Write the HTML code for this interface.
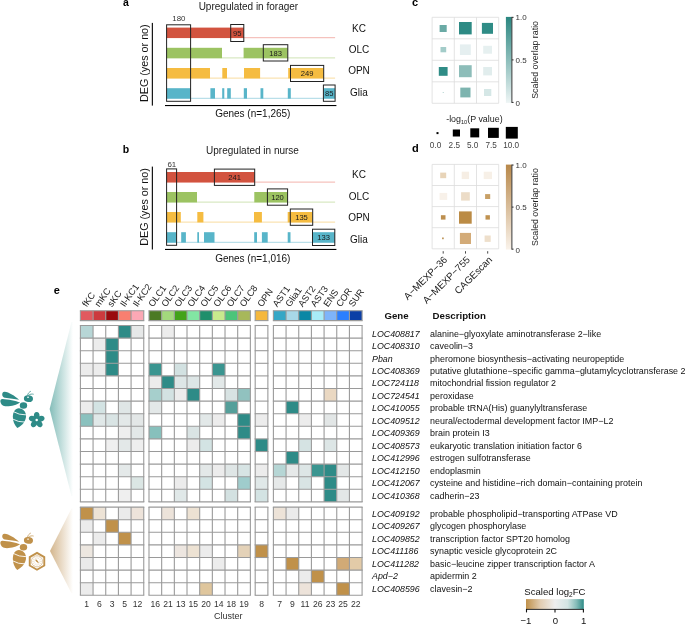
<!DOCTYPE html>
<html><head><meta charset="utf-8"><style>
html,body{margin:0;padding:0;background:#fff;width:685px;height:624px;overflow:hidden}
svg{display:block;will-change:transform}
text{font-family:"Liberation Sans", sans-serif}
</style></head><body>
<svg width="685" height="624" viewBox="0 0 685 624" font-family='"Liberation Sans", sans-serif'>
<rect width="685" height="624" fill="#fff"/>
<text x="123" y="6" font-size="10.5" text-anchor="start" font-weight="bold" font-style="normal" fill="#000" >a</text>
<text x="248.4" y="9.6" font-size="10" text-anchor="middle" font-weight="normal" font-style="normal" fill="#1a1a1a" >Upregulated in forager</text>
<rect x="166.6" y="37.2" width="168.5" height="1" fill="#f3b4ad"/>
<rect x="166.6" y="27.6" width="77.20" height="10.4" fill="#d2533f"/>
<rect x="166.6" y="57.4" width="168.5" height="1" fill="#cfe3b5"/>
<rect x="166.6" y="47.8" width="55.40" height="10.4" fill="#9cc362"/>
<rect x="243.6" y="47.8" width="44.10" height="10.4" fill="#9cc362"/>
<rect x="166.6" y="77.6" width="168.5" height="1" fill="#f9dca0"/>
<rect x="166.6" y="68.0" width="43.40" height="10.4" fill="#f5bc41"/>
<rect x="222.3" y="68.0" width="4.70" height="10.4" fill="#f5bc41"/>
<rect x="244" y="68.0" width="16.10" height="10.4" fill="#f5bc41"/>
<rect x="288.2" y="68.0" width="35.50" height="10.4" fill="#f5bc41"/>
<rect x="166.6" y="97.8" width="168.5" height="1" fill="#a9d8e4"/>
<rect x="166.6" y="88.2" width="24.00" height="10.4" fill="#58b5c9"/>
<rect x="210.4" y="88.2" width="4.60" height="10.4" fill="#58b5c9"/>
<rect x="222.2" y="88.2" width="2.10" height="10.4" fill="#58b5c9"/>
<rect x="227.2" y="88.2" width="3.60" height="10.4" fill="#58b5c9"/>
<rect x="243.8" y="88.2" width="3.20" height="10.4" fill="#58b5c9"/>
<rect x="260.5" y="88.2" width="2.80" height="10.4" fill="#58b5c9"/>
<rect x="287.8" y="88.2" width="3.00" height="10.4" fill="#58b5c9"/>
<rect x="323.7" y="88.2" width="11.40" height="10.4" fill="#58b5c9"/>
<rect x="230.7" y="24.5" width="13.10" height="17.00" fill="none" stroke="#222" stroke-width="1"/>
<text x="237.25" y="35.9" font-size="7.6" text-anchor="middle" font-weight="normal" font-style="normal" fill="#1a1a1a" >95</text>
<rect x="263.3" y="44.7" width="24.50" height="16.30" fill="none" stroke="#222" stroke-width="1"/>
<text x="275.55" y="55.75" font-size="7.6" text-anchor="middle" font-weight="normal" font-style="normal" fill="#1a1a1a" >183</text>
<rect x="290.5" y="65.4" width="33.20" height="16.10" fill="none" stroke="#222" stroke-width="1"/>
<text x="307.1" y="76.35000000000001" font-size="7.6" text-anchor="middle" font-weight="normal" font-style="normal" fill="#1a1a1a" >249</text>
<rect x="323.4" y="85" width="11.70" height="16.30" fill="none" stroke="#222" stroke-width="1"/>
<text x="329.25" y="96.05000000000001" font-size="7.6" text-anchor="middle" font-weight="normal" font-style="normal" fill="#1a1a1a" >85</text>
<rect x="166.6" y="24.8" width="24.00" height="76.50" fill="none" stroke="#222" stroke-width="1"/>
<text x="178.9" y="21.0" font-size="7.9" text-anchor="middle" font-weight="normal" font-style="normal" fill="#333" >180</text>
<rect x="151.8" y="22.9" width="1.1" height="82.69999999999999" fill="#000"/>
<rect x="165" y="105.0" width="171.4" height="1.1" fill="#000"/>
<text x="0" y="0" font-size="10.75" text-anchor="middle" fill="#111" transform="translate(147.6 63.15) rotate(-90)">DEG (yes or no)</text>
<text x="252.8" y="116.9" font-size="10" text-anchor="middle" font-weight="normal" font-style="normal" fill="#111" >Genes (n=1,265)</text>
<text x="359" y="31.9" font-size="10" text-anchor="middle" font-weight="normal" font-style="normal" fill="#111" >KC</text>
<text x="359" y="53.2" font-size="10" text-anchor="middle" font-weight="normal" font-style="normal" fill="#111" >OLC</text>
<text x="359" y="74.4" font-size="10" text-anchor="middle" font-weight="normal" font-style="normal" fill="#111" >OPN</text>
<text x="359" y="95.7" font-size="10" text-anchor="middle" font-weight="normal" font-style="normal" fill="#111" >Glia</text>
<text x="122.8" y="153" font-size="10.5" text-anchor="start" font-weight="bold" font-style="normal" fill="#000" >b</text>
<text x="252.5" y="153.7" font-size="10" text-anchor="middle" font-weight="normal" font-style="normal" fill="#1a1a1a" >Upregulated in nurse</text>
<rect x="166.6" y="181.6" width="168.5" height="1" fill="#f3b4ad"/>
<rect x="166.6" y="172.0" width="88.10" height="10.4" fill="#d2533f"/>
<rect x="166.6" y="201.6" width="168.5" height="1" fill="#cfe3b5"/>
<rect x="166.6" y="192.0" width="30.40" height="10.4" fill="#9cc362"/>
<rect x="254.3" y="192.0" width="33.30" height="10.4" fill="#9cc362"/>
<rect x="166.6" y="221.6" width="168.5" height="1" fill="#f9dca0"/>
<rect x="166.6" y="212.0" width="14.20" height="10.4" fill="#f5bc41"/>
<rect x="197.3" y="212.0" width="6.10" height="10.4" fill="#f5bc41"/>
<rect x="254" y="212.0" width="7.90" height="10.4" fill="#f5bc41"/>
<rect x="287.7" y="212.0" width="24.80" height="10.4" fill="#f5bc41"/>
<rect x="166.6" y="241.79999999999998" width="168.5" height="1" fill="#a9d8e4"/>
<rect x="166.6" y="232.2" width="9.80" height="10.4" fill="#58b5c9"/>
<rect x="181.2" y="232.2" width="4.70" height="10.4" fill="#58b5c9"/>
<rect x="197.3" y="232.2" width="1.70" height="10.4" fill="#58b5c9"/>
<rect x="204" y="232.2" width="10.50" height="10.4" fill="#58b5c9"/>
<rect x="254.2" y="232.2" width="2.80" height="10.4" fill="#58b5c9"/>
<rect x="261.9" y="232.2" width="5.80" height="10.4" fill="#58b5c9"/>
<rect x="287.7" y="232.2" width="2.80" height="10.4" fill="#58b5c9"/>
<rect x="312.5" y="232.2" width="22.30" height="10.4" fill="#58b5c9"/>
<rect x="214.4" y="169.1" width="40.30" height="16.30" fill="none" stroke="#222" stroke-width="1"/>
<text x="234.55" y="180.15" font-size="7.6" text-anchor="middle" font-weight="normal" font-style="normal" fill="#1a1a1a" >241</text>
<rect x="267.4" y="188.9" width="20.20" height="16.30" fill="none" stroke="#222" stroke-width="1"/>
<text x="277.5" y="199.95000000000002" font-size="7.6" text-anchor="middle" font-weight="normal" font-style="normal" fill="#1a1a1a" >120</text>
<rect x="290.3" y="209" width="22.40" height="16.30" fill="none" stroke="#222" stroke-width="1"/>
<text x="301.5" y="220.05" font-size="7.6" text-anchor="middle" font-weight="normal" font-style="normal" fill="#1a1a1a" >135</text>
<rect x="312.5" y="229.2" width="22.30" height="16.30" fill="none" stroke="#222" stroke-width="1"/>
<text x="323.65" y="240.25" font-size="7.6" text-anchor="middle" font-weight="normal" font-style="normal" fill="#1a1a1a" >133</text>
<rect x="166.6" y="168.9" width="10.00" height="76.40" fill="none" stroke="#222" stroke-width="1"/>
<text x="171.79999999999998" y="167.4" font-size="7.9" text-anchor="middle" font-weight="normal" font-style="normal" fill="#333" >61</text>
<rect x="151.8" y="166.6" width="1.1" height="82.9" fill="#000"/>
<rect x="165" y="248.9" width="171.4" height="1.1" fill="#000"/>
<text x="0" y="0" font-size="10.75" text-anchor="middle" fill="#111" transform="translate(147.6 206.95000000000002) rotate(-90)">DEG (yes or no)</text>
<text x="252.8" y="261.9" font-size="10" text-anchor="middle" font-weight="normal" font-style="normal" fill="#111" >Genes (n=1,016)</text>
<text x="359" y="178.3" font-size="10" text-anchor="middle" font-weight="normal" font-style="normal" fill="#111" >KC</text>
<text x="359" y="199.6" font-size="10" text-anchor="middle" font-weight="normal" font-style="normal" fill="#111" >OLC</text>
<text x="359" y="221.2" font-size="10" text-anchor="middle" font-weight="normal" font-style="normal" fill="#111" >OPN</text>
<text x="359" y="242.9" font-size="10" text-anchor="middle" font-weight="normal" font-style="normal" fill="#111" >Glia</text>
<text x="412" y="6.2" font-size="11" text-anchor="start" font-weight="bold" font-style="normal" fill="#000" >c</text>
<line x1="432.1" y1="17.3" x2="432.1" y2="103.3" stroke="#dcdcdc" stroke-width="0.8"/>
<line x1="454.3" y1="17.3" x2="454.3" y2="103.3" stroke="#dcdcdc" stroke-width="0.8"/>
<line x1="476.5" y1="17.3" x2="476.5" y2="103.3" stroke="#dcdcdc" stroke-width="0.8"/>
<line x1="498.7" y1="17.3" x2="498.7" y2="103.3" stroke="#dcdcdc" stroke-width="0.8"/>
<line x1="432.1" y1="17.3" x2="498.7" y2="17.3" stroke="#dcdcdc" stroke-width="0.8"/>
<line x1="432.1" y1="38.8" x2="498.7" y2="38.8" stroke="#dcdcdc" stroke-width="0.8"/>
<line x1="432.1" y1="60.3" x2="498.7" y2="60.3" stroke="#dcdcdc" stroke-width="0.8"/>
<line x1="432.1" y1="81.8" x2="498.7" y2="81.8" stroke="#dcdcdc" stroke-width="0.8"/>
<line x1="432.1" y1="103.3" x2="498.7" y2="103.3" stroke="#dcdcdc" stroke-width="0.8"/>
<rect x="439.6" y="25" width="7.10" height="7.00" fill="#6aaaa5"/>
<rect x="459" y="22" width="12.70" height="12.40" fill="#2d8a84"/>
<rect x="481.9" y="22.9" width="11.10" height="10.90" fill="#2f8c86"/>
<rect x="440.5" y="47" width="5.70" height="5.30" fill="#a3ccc9"/>
<rect x="459.9" y="44.4" width="10.90" height="10.60" fill="#e5eff0"/>
<rect x="483.2" y="45.8" width="8.80" height="7.90" fill="#e6f0f0"/>
<rect x="438.8" y="67" width="8.80" height="8.80" fill="#2f8c86"/>
<rect x="459" y="65.2" width="12.70" height="12.00" fill="#8dbdb9"/>
<rect x="483.2" y="67" width="8.80" height="8.40" fill="#e1eded"/>
<rect x="442.7" y="92" width="1.10" height="1.00" fill="#b6d5d3"/>
<rect x="460.3" y="87.6" width="10.20" height="9.80" fill="#7db4af"/>
<rect x="484" y="89" width="7.30" height="7.00" fill="#d5e7e6"/>
<defs><linearGradient id="gc" x1="0" y1="0" x2="0" y2="1"><stop offset="0" stop-color="#2a8680"/><stop offset="1" stop-color="#eef5f5"/></linearGradient><linearGradient id="gd" x1="0" y1="0" x2="0" y2="1"><stop offset="0" stop-color="#b8884a"/><stop offset="1" stop-color="#faf3eb"/></linearGradient></defs>
<rect x="505.9" y="16.9" width="5.8" height="86.00" fill="url(#gc)"/>
<line x1="511.9" y1="16.9" x2="511.9" y2="102.9" stroke="#222" stroke-width="0.9"/>
<line x1="511.9" y1="17.349999999999998" x2="513.6" y2="17.349999999999998" stroke="#222" stroke-width="0.9"/>
<line x1="511.9" y1="59.900000000000006" x2="513.6" y2="59.900000000000006" stroke="#222" stroke-width="0.9"/>
<line x1="511.9" y1="102.45" x2="513.6" y2="102.45" stroke="#222" stroke-width="0.9"/>
<text x="515.6" y="19.9" font-size="8" text-anchor="start" font-weight="normal" font-style="normal" fill="#333" >1.0</text>
<text x="515.6" y="62.900000000000006" font-size="8" text-anchor="start" font-weight="normal" font-style="normal" fill="#333" >0.5</text>
<text x="515.6" y="105.9" font-size="8" text-anchor="start" font-weight="normal" font-style="normal" fill="#333" >0</text>
<text x="0" y="0" font-size="8.8" text-anchor="middle" fill="#222" transform="translate(538 59.900000000000006) rotate(-90)">Scaled overlap ratio</text>
<text x="446.2" y="121.9" font-size="8.9" fill="#222">-log<tspan font-size="5.6" dy="1.8">10</tspan><tspan dy="-1.8">(P value)</tspan></text>
<rect x="436.5" y="132.1" width="2.00" height="2.00" fill="#000"/>
<rect x="452.8" y="129.5" width="7.20" height="7.00" fill="#000"/>
<rect x="470.3" y="128.3" width="8.90" height="9.10" fill="#000"/>
<rect x="488" y="127.8" width="10.80" height="10.10" fill="#000"/>
<rect x="505.8" y="126.9" width="12.00" height="11.70" fill="#000"/>
<text x="435.5" y="147.7" font-size="8.2" text-anchor="middle" font-weight="normal" font-style="normal" fill="#444" >0.0</text>
<text x="454.3" y="147.7" font-size="8.2" text-anchor="middle" font-weight="normal" font-style="normal" fill="#444" >2.5</text>
<text x="472.7" y="147.7" font-size="8.2" text-anchor="middle" font-weight="normal" font-style="normal" fill="#444" >5.0</text>
<text x="491.2" y="147.7" font-size="8.2" text-anchor="middle" font-weight="normal" font-style="normal" fill="#444" >7.5</text>
<text x="511.1" y="147.7" font-size="8.2" text-anchor="middle" font-weight="normal" font-style="normal" fill="#444" >10.0</text>
<text x="412" y="152.3" font-size="11" text-anchor="start" font-weight="bold" font-style="normal" fill="#000" >d</text>
<line x1="432.1" y1="164.4" x2="432.1" y2="248.8" stroke="#dcdcdc" stroke-width="0.8"/>
<line x1="454.3" y1="164.4" x2="454.3" y2="248.8" stroke="#dcdcdc" stroke-width="0.8"/>
<line x1="476.5" y1="164.4" x2="476.5" y2="248.8" stroke="#dcdcdc" stroke-width="0.8"/>
<line x1="498.7" y1="164.4" x2="498.7" y2="248.8" stroke="#dcdcdc" stroke-width="0.8"/>
<line x1="432.1" y1="164.4" x2="498.7" y2="164.4" stroke="#dcdcdc" stroke-width="0.8"/>
<line x1="432.1" y1="185.5" x2="498.7" y2="185.5" stroke="#dcdcdc" stroke-width="0.8"/>
<line x1="432.1" y1="206.60000000000002" x2="498.7" y2="206.60000000000002" stroke="#dcdcdc" stroke-width="0.8"/>
<line x1="432.1" y1="227.70000000000002" x2="498.7" y2="227.70000000000002" stroke="#dcdcdc" stroke-width="0.8"/>
<line x1="432.1" y1="248.8" x2="498.7" y2="248.8" stroke="#dcdcdc" stroke-width="0.8"/>
<rect x="440.2" y="172.6" width="6.00" height="5.60" fill="#e8d4b8"/>
<rect x="461.7" y="171.7" width="7.40" height="7.40" fill="#f6eee4"/>
<rect x="483.7" y="171.7" width="8.30" height="7.40" fill="#f7f0e7"/>
<rect x="439.6" y="192.9" width="7.60" height="7.00" fill="#f8f1e9"/>
<rect x="461.1" y="192.2" width="8.70" height="8.40" fill="#ecdcc7"/>
<rect x="485.1" y="194.1" width="5.10" height="4.90" fill="#c8a066"/>
<rect x="440.9" y="215.2" width="4.60" height="4.40" fill="#bd8f4f"/>
<rect x="459" y="211.4" width="12.70" height="12.30" fill="#bb8b45"/>
<rect x="485.5" y="215.2" width="4.40" height="4.40" fill="#c09250"/>
<rect x="442" y="237.5" width="1.80" height="1.70" fill="#c09a60"/>
<rect x="459.9" y="232.9" width="11.10" height="11.10" fill="#d3ab78"/>
<rect x="484.6" y="235.5" width="6.10" height="6.40" fill="#eedfcb"/>
<rect x="505.9" y="164.6" width="5.8" height="85.00" fill="url(#gd)"/>
<line x1="511.9" y1="164.6" x2="511.9" y2="249.6" stroke="#222" stroke-width="0.9"/>
<line x1="511.9" y1="165.04999999999998" x2="513.6" y2="165.04999999999998" stroke="#222" stroke-width="0.9"/>
<line x1="511.9" y1="207.1" x2="513.6" y2="207.1" stroke="#222" stroke-width="0.9"/>
<line x1="511.9" y1="249.15" x2="513.6" y2="249.15" stroke="#222" stroke-width="0.9"/>
<text x="515.6" y="167.6" font-size="8" text-anchor="start" font-weight="normal" font-style="normal" fill="#333" >1.0</text>
<text x="515.6" y="210.1" font-size="8" text-anchor="start" font-weight="normal" font-style="normal" fill="#333" >0.5</text>
<text x="515.6" y="252.6" font-size="8" text-anchor="start" font-weight="normal" font-style="normal" fill="#333" >0</text>
<text x="0" y="0" font-size="8.8" text-anchor="middle" fill="#222" transform="translate(538 207.1) rotate(-90)">Scaled overlap ratio</text>
<line x1="443.2" y1="251.2" x2="443.2" y2="253.6" stroke="#333" stroke-width="0.9"/>
<line x1="465.5" y1="251.2" x2="465.5" y2="253.6" stroke="#333" stroke-width="0.9"/>
<line x1="487.7" y1="251.2" x2="487.7" y2="253.6" stroke="#333" stroke-width="0.9"/>
<text x="0" y="0" font-size="9.8" text-anchor="end" fill="#222" transform="translate(447.9 260.4) rotate(-45)">A−MEXP−36</text>
<text x="0" y="0" font-size="9.8" text-anchor="end" fill="#222" transform="translate(470.59999999999997 260.4) rotate(-45)">A−MEXP−755</text>
<text x="0" y="0" font-size="9.8" text-anchor="end" fill="#222" transform="translate(492.79999999999995 260.4) rotate(-45)">CAGEscan</text>
<text x="53.8" y="294" font-size="11" text-anchor="start" font-weight="bold" font-style="normal" fill="#000" >e</text>
<rect x="80.40" y="325.50" width="12.67" height="12.60" fill="#b7d6d6"/>
<rect x="118.41" y="325.50" width="12.67" height="12.60" fill="#2e8b87"/>
<rect x="131.08" y="325.50" width="12.67" height="12.60" fill="#e6e8e8"/>
<rect x="161.67" y="325.50" width="12.67" height="12.60" fill="#ececec"/>
<rect x="93.07" y="338.10" width="12.67" height="12.60" fill="#ececec"/>
<rect x="105.74" y="338.10" width="12.67" height="12.60" fill="#2e8b87"/>
<rect x="105.74" y="350.70" width="12.67" height="12.60" fill="#2e8b87"/>
<rect x="80.40" y="363.30" width="12.67" height="12.60" fill="#ececec"/>
<rect x="93.07" y="363.30" width="12.67" height="12.60" fill="#ececec"/>
<rect x="105.74" y="363.30" width="12.67" height="12.60" fill="#2e8b87"/>
<rect x="149.00" y="363.30" width="12.67" height="12.60" fill="#3a9590"/>
<rect x="174.34" y="363.30" width="12.67" height="12.60" fill="#d2e1e1"/>
<rect x="212.35" y="363.30" width="12.67" height="12.60" fill="#3a9590"/>
<rect x="149.00" y="375.90" width="12.67" height="12.60" fill="#ececec"/>
<rect x="161.67" y="375.90" width="12.67" height="12.60" fill="#2e8b87"/>
<rect x="174.34" y="375.90" width="12.67" height="12.60" fill="#dde6e6"/>
<rect x="187.01" y="375.90" width="12.67" height="12.60" fill="#dde6e6"/>
<rect x="212.35" y="375.90" width="12.67" height="12.60" fill="#e2e8e8"/>
<rect x="149.00" y="388.50" width="12.67" height="12.60" fill="#a6cfcc"/>
<rect x="161.67" y="388.50" width="12.67" height="12.60" fill="#d3e2e2"/>
<rect x="174.34" y="388.50" width="12.67" height="12.60" fill="#ececec"/>
<rect x="187.01" y="388.50" width="12.67" height="12.60" fill="#2e8b87"/>
<rect x="225.02" y="388.50" width="12.67" height="12.60" fill="#d8e3e3"/>
<rect x="237.69" y="388.50" width="12.67" height="12.60" fill="#91c2bf"/>
<rect x="324.08" y="388.50" width="12.67" height="12.60" fill="#ead8c2"/>
<rect x="80.40" y="401.10" width="12.67" height="12.60" fill="#ececec"/>
<rect x="93.07" y="401.10" width="12.67" height="12.60" fill="#d3e3e3"/>
<rect x="118.41" y="401.10" width="12.67" height="12.60" fill="#dfe6e6"/>
<rect x="149.00" y="401.10" width="12.67" height="12.60" fill="#e3e8e8"/>
<rect x="225.02" y="401.10" width="12.67" height="12.60" fill="#549f9a"/>
<rect x="286.07" y="401.10" width="12.67" height="12.60" fill="#2e8b87"/>
<rect x="80.40" y="413.70" width="12.67" height="12.60" fill="#8ac1be"/>
<rect x="93.07" y="413.70" width="12.67" height="12.60" fill="#e0e8e8"/>
<rect x="105.74" y="413.70" width="12.67" height="12.60" fill="#d9e4e4"/>
<rect x="118.41" y="413.70" width="12.67" height="12.60" fill="#e3e8e8"/>
<rect x="131.08" y="413.70" width="12.67" height="12.60" fill="#e3e7e7"/>
<rect x="199.68" y="413.70" width="12.67" height="12.60" fill="#e2e8e8"/>
<rect x="212.35" y="413.70" width="12.67" height="12.60" fill="#ececec"/>
<rect x="237.69" y="413.70" width="12.67" height="12.60" fill="#2e8b87"/>
<rect x="255.20" y="413.70" width="12.67" height="12.60" fill="#ececec"/>
<rect x="298.74" y="413.70" width="12.67" height="12.60" fill="#ececec"/>
<rect x="324.08" y="413.70" width="12.67" height="12.60" fill="#e2e6e6"/>
<rect x="118.41" y="426.30" width="12.67" height="12.60" fill="#eeeeee"/>
<rect x="131.08" y="426.30" width="12.67" height="12.60" fill="#e3e8e8"/>
<rect x="149.00" y="426.30" width="12.67" height="12.60" fill="#87c0bc"/>
<rect x="187.01" y="426.30" width="12.67" height="12.60" fill="#dae4e4"/>
<rect x="237.69" y="426.30" width="12.67" height="12.60" fill="#2e8b87"/>
<rect x="105.74" y="438.90" width="12.67" height="12.60" fill="#efefef"/>
<rect x="118.41" y="438.90" width="12.67" height="12.60" fill="#e3e8e8"/>
<rect x="131.08" y="438.90" width="12.67" height="12.60" fill="#eeeeee"/>
<rect x="187.01" y="438.90" width="12.67" height="12.60" fill="#ececec"/>
<rect x="199.68" y="438.90" width="12.67" height="12.60" fill="#d3e3e3"/>
<rect x="255.20" y="438.90" width="12.67" height="12.60" fill="#2e8b87"/>
<rect x="298.74" y="438.90" width="12.67" height="12.60" fill="#d5e3e3"/>
<rect x="324.08" y="438.90" width="12.67" height="12.60" fill="#dde6e6"/>
<rect x="286.07" y="451.50" width="12.67" height="12.60" fill="#2e8b87"/>
<rect x="118.41" y="464.10" width="12.67" height="12.60" fill="#e4e9e9"/>
<rect x="199.68" y="464.10" width="12.67" height="12.60" fill="#e3e8e8"/>
<rect x="212.35" y="464.10" width="12.67" height="12.60" fill="#ececec"/>
<rect x="225.02" y="464.10" width="12.67" height="12.60" fill="#dfe6e6"/>
<rect x="237.69" y="464.10" width="12.67" height="12.60" fill="#d7e4e4"/>
<rect x="255.20" y="464.10" width="12.67" height="12.60" fill="#ececec"/>
<rect x="273.40" y="464.10" width="12.67" height="12.60" fill="#b6d6d5"/>
<rect x="286.07" y="464.10" width="12.67" height="12.60" fill="#e6e9e9"/>
<rect x="298.74" y="464.10" width="12.67" height="12.60" fill="#dde6e6"/>
<rect x="311.41" y="464.10" width="12.67" height="12.60" fill="#3a9590"/>
<rect x="324.08" y="464.10" width="12.67" height="12.60" fill="#2e8b87"/>
<rect x="336.75" y="464.10" width="12.67" height="12.60" fill="#e3e7e7"/>
<rect x="131.08" y="476.70" width="12.67" height="12.60" fill="#dbe6e4"/>
<rect x="174.34" y="476.70" width="12.67" height="12.60" fill="#ececec"/>
<rect x="199.68" y="476.70" width="12.67" height="12.60" fill="#d3e3e3"/>
<rect x="237.69" y="476.70" width="12.67" height="12.60" fill="#9fcccc"/>
<rect x="255.20" y="476.70" width="12.67" height="12.60" fill="#e0e8e8"/>
<rect x="273.40" y="476.70" width="12.67" height="12.60" fill="#e6e9e9"/>
<rect x="298.74" y="476.70" width="12.67" height="12.60" fill="#d8e4e4"/>
<rect x="324.08" y="476.70" width="12.67" height="12.60" fill="#2e8b87"/>
<rect x="118.41" y="489.30" width="12.67" height="12.60" fill="#efefef"/>
<rect x="174.34" y="489.30" width="12.67" height="12.60" fill="#e0e8e8"/>
<rect x="225.02" y="489.30" width="12.67" height="12.60" fill="#d3e1e1"/>
<rect x="255.20" y="489.30" width="12.67" height="12.60" fill="#d3e3e3"/>
<rect x="324.08" y="489.30" width="12.67" height="12.60" fill="#2e8b87"/>
<rect x="336.75" y="489.30" width="12.67" height="12.60" fill="#e3e7e7"/>
<line x1="80.40" y1="325.5" x2="80.40" y2="501.90" stroke="#9a9a9a" stroke-width="1.1"/>
<line x1="93.07" y1="325.5" x2="93.07" y2="501.90" stroke="#9a9a9a" stroke-width="1.1"/>
<line x1="105.74" y1="325.5" x2="105.74" y2="501.90" stroke="#9a9a9a" stroke-width="1.1"/>
<line x1="118.41" y1="325.5" x2="118.41" y2="501.90" stroke="#9a9a9a" stroke-width="1.1"/>
<line x1="131.08" y1="325.5" x2="131.08" y2="501.90" stroke="#9a9a9a" stroke-width="1.1"/>
<line x1="143.75" y1="325.5" x2="143.75" y2="501.90" stroke="#9a9a9a" stroke-width="1.1"/>
<line x1="79.85" y1="325.50" x2="144.30" y2="325.50" stroke="#9a9a9a" stroke-width="1.1"/>
<line x1="79.85" y1="338.10" x2="144.30" y2="338.10" stroke="#9a9a9a" stroke-width="1.1"/>
<line x1="79.85" y1="350.70" x2="144.30" y2="350.70" stroke="#9a9a9a" stroke-width="1.1"/>
<line x1="79.85" y1="363.30" x2="144.30" y2="363.30" stroke="#9a9a9a" stroke-width="1.1"/>
<line x1="79.85" y1="375.90" x2="144.30" y2="375.90" stroke="#9a9a9a" stroke-width="1.1"/>
<line x1="79.85" y1="388.50" x2="144.30" y2="388.50" stroke="#9a9a9a" stroke-width="1.1"/>
<line x1="79.85" y1="401.10" x2="144.30" y2="401.10" stroke="#9a9a9a" stroke-width="1.1"/>
<line x1="79.85" y1="413.70" x2="144.30" y2="413.70" stroke="#9a9a9a" stroke-width="1.1"/>
<line x1="79.85" y1="426.30" x2="144.30" y2="426.30" stroke="#9a9a9a" stroke-width="1.1"/>
<line x1="79.85" y1="438.90" x2="144.30" y2="438.90" stroke="#9a9a9a" stroke-width="1.1"/>
<line x1="79.85" y1="451.50" x2="144.30" y2="451.50" stroke="#9a9a9a" stroke-width="1.1"/>
<line x1="79.85" y1="464.10" x2="144.30" y2="464.10" stroke="#9a9a9a" stroke-width="1.1"/>
<line x1="79.85" y1="476.70" x2="144.30" y2="476.70" stroke="#9a9a9a" stroke-width="1.1"/>
<line x1="79.85" y1="489.30" x2="144.30" y2="489.30" stroke="#9a9a9a" stroke-width="1.1"/>
<line x1="79.85" y1="501.90" x2="144.30" y2="501.90" stroke="#9a9a9a" stroke-width="1.1"/>
<line x1="149.00" y1="325.5" x2="149.00" y2="501.90" stroke="#9a9a9a" stroke-width="1.1"/>
<line x1="161.67" y1="325.5" x2="161.67" y2="501.90" stroke="#9a9a9a" stroke-width="1.1"/>
<line x1="174.34" y1="325.5" x2="174.34" y2="501.90" stroke="#9a9a9a" stroke-width="1.1"/>
<line x1="187.01" y1="325.5" x2="187.01" y2="501.90" stroke="#9a9a9a" stroke-width="1.1"/>
<line x1="199.68" y1="325.5" x2="199.68" y2="501.90" stroke="#9a9a9a" stroke-width="1.1"/>
<line x1="212.35" y1="325.5" x2="212.35" y2="501.90" stroke="#9a9a9a" stroke-width="1.1"/>
<line x1="225.02" y1="325.5" x2="225.02" y2="501.90" stroke="#9a9a9a" stroke-width="1.1"/>
<line x1="237.69" y1="325.5" x2="237.69" y2="501.90" stroke="#9a9a9a" stroke-width="1.1"/>
<line x1="250.36" y1="325.5" x2="250.36" y2="501.90" stroke="#9a9a9a" stroke-width="1.1"/>
<line x1="148.45" y1="325.50" x2="250.91" y2="325.50" stroke="#9a9a9a" stroke-width="1.1"/>
<line x1="148.45" y1="338.10" x2="250.91" y2="338.10" stroke="#9a9a9a" stroke-width="1.1"/>
<line x1="148.45" y1="350.70" x2="250.91" y2="350.70" stroke="#9a9a9a" stroke-width="1.1"/>
<line x1="148.45" y1="363.30" x2="250.91" y2="363.30" stroke="#9a9a9a" stroke-width="1.1"/>
<line x1="148.45" y1="375.90" x2="250.91" y2="375.90" stroke="#9a9a9a" stroke-width="1.1"/>
<line x1="148.45" y1="388.50" x2="250.91" y2="388.50" stroke="#9a9a9a" stroke-width="1.1"/>
<line x1="148.45" y1="401.10" x2="250.91" y2="401.10" stroke="#9a9a9a" stroke-width="1.1"/>
<line x1="148.45" y1="413.70" x2="250.91" y2="413.70" stroke="#9a9a9a" stroke-width="1.1"/>
<line x1="148.45" y1="426.30" x2="250.91" y2="426.30" stroke="#9a9a9a" stroke-width="1.1"/>
<line x1="148.45" y1="438.90" x2="250.91" y2="438.90" stroke="#9a9a9a" stroke-width="1.1"/>
<line x1="148.45" y1="451.50" x2="250.91" y2="451.50" stroke="#9a9a9a" stroke-width="1.1"/>
<line x1="148.45" y1="464.10" x2="250.91" y2="464.10" stroke="#9a9a9a" stroke-width="1.1"/>
<line x1="148.45" y1="476.70" x2="250.91" y2="476.70" stroke="#9a9a9a" stroke-width="1.1"/>
<line x1="148.45" y1="489.30" x2="250.91" y2="489.30" stroke="#9a9a9a" stroke-width="1.1"/>
<line x1="148.45" y1="501.90" x2="250.91" y2="501.90" stroke="#9a9a9a" stroke-width="1.1"/>
<line x1="255.20" y1="325.5" x2="255.20" y2="501.90" stroke="#9a9a9a" stroke-width="1.1"/>
<line x1="267.87" y1="325.5" x2="267.87" y2="501.90" stroke="#9a9a9a" stroke-width="1.1"/>
<line x1="254.65" y1="325.50" x2="268.42" y2="325.50" stroke="#9a9a9a" stroke-width="1.1"/>
<line x1="254.65" y1="338.10" x2="268.42" y2="338.10" stroke="#9a9a9a" stroke-width="1.1"/>
<line x1="254.65" y1="350.70" x2="268.42" y2="350.70" stroke="#9a9a9a" stroke-width="1.1"/>
<line x1="254.65" y1="363.30" x2="268.42" y2="363.30" stroke="#9a9a9a" stroke-width="1.1"/>
<line x1="254.65" y1="375.90" x2="268.42" y2="375.90" stroke="#9a9a9a" stroke-width="1.1"/>
<line x1="254.65" y1="388.50" x2="268.42" y2="388.50" stroke="#9a9a9a" stroke-width="1.1"/>
<line x1="254.65" y1="401.10" x2="268.42" y2="401.10" stroke="#9a9a9a" stroke-width="1.1"/>
<line x1="254.65" y1="413.70" x2="268.42" y2="413.70" stroke="#9a9a9a" stroke-width="1.1"/>
<line x1="254.65" y1="426.30" x2="268.42" y2="426.30" stroke="#9a9a9a" stroke-width="1.1"/>
<line x1="254.65" y1="438.90" x2="268.42" y2="438.90" stroke="#9a9a9a" stroke-width="1.1"/>
<line x1="254.65" y1="451.50" x2="268.42" y2="451.50" stroke="#9a9a9a" stroke-width="1.1"/>
<line x1="254.65" y1="464.10" x2="268.42" y2="464.10" stroke="#9a9a9a" stroke-width="1.1"/>
<line x1="254.65" y1="476.70" x2="268.42" y2="476.70" stroke="#9a9a9a" stroke-width="1.1"/>
<line x1="254.65" y1="489.30" x2="268.42" y2="489.30" stroke="#9a9a9a" stroke-width="1.1"/>
<line x1="254.65" y1="501.90" x2="268.42" y2="501.90" stroke="#9a9a9a" stroke-width="1.1"/>
<line x1="273.40" y1="325.5" x2="273.40" y2="501.90" stroke="#9a9a9a" stroke-width="1.1"/>
<line x1="286.07" y1="325.5" x2="286.07" y2="501.90" stroke="#9a9a9a" stroke-width="1.1"/>
<line x1="298.74" y1="325.5" x2="298.74" y2="501.90" stroke="#9a9a9a" stroke-width="1.1"/>
<line x1="311.41" y1="325.5" x2="311.41" y2="501.90" stroke="#9a9a9a" stroke-width="1.1"/>
<line x1="324.08" y1="325.5" x2="324.08" y2="501.90" stroke="#9a9a9a" stroke-width="1.1"/>
<line x1="336.75" y1="325.5" x2="336.75" y2="501.90" stroke="#9a9a9a" stroke-width="1.1"/>
<line x1="349.42" y1="325.5" x2="349.42" y2="501.90" stroke="#9a9a9a" stroke-width="1.1"/>
<line x1="362.09" y1="325.5" x2="362.09" y2="501.90" stroke="#9a9a9a" stroke-width="1.1"/>
<line x1="272.85" y1="325.50" x2="362.64" y2="325.50" stroke="#9a9a9a" stroke-width="1.1"/>
<line x1="272.85" y1="338.10" x2="362.64" y2="338.10" stroke="#9a9a9a" stroke-width="1.1"/>
<line x1="272.85" y1="350.70" x2="362.64" y2="350.70" stroke="#9a9a9a" stroke-width="1.1"/>
<line x1="272.85" y1="363.30" x2="362.64" y2="363.30" stroke="#9a9a9a" stroke-width="1.1"/>
<line x1="272.85" y1="375.90" x2="362.64" y2="375.90" stroke="#9a9a9a" stroke-width="1.1"/>
<line x1="272.85" y1="388.50" x2="362.64" y2="388.50" stroke="#9a9a9a" stroke-width="1.1"/>
<line x1="272.85" y1="401.10" x2="362.64" y2="401.10" stroke="#9a9a9a" stroke-width="1.1"/>
<line x1="272.85" y1="413.70" x2="362.64" y2="413.70" stroke="#9a9a9a" stroke-width="1.1"/>
<line x1="272.85" y1="426.30" x2="362.64" y2="426.30" stroke="#9a9a9a" stroke-width="1.1"/>
<line x1="272.85" y1="438.90" x2="362.64" y2="438.90" stroke="#9a9a9a" stroke-width="1.1"/>
<line x1="272.85" y1="451.50" x2="362.64" y2="451.50" stroke="#9a9a9a" stroke-width="1.1"/>
<line x1="272.85" y1="464.10" x2="362.64" y2="464.10" stroke="#9a9a9a" stroke-width="1.1"/>
<line x1="272.85" y1="476.70" x2="362.64" y2="476.70" stroke="#9a9a9a" stroke-width="1.1"/>
<line x1="272.85" y1="489.30" x2="362.64" y2="489.30" stroke="#9a9a9a" stroke-width="1.1"/>
<line x1="272.85" y1="501.90" x2="362.64" y2="501.90" stroke="#9a9a9a" stroke-width="1.1"/>
<rect x="80.40" y="507.10" width="12.67" height="12.60" fill="#c0914a"/>
<rect x="93.07" y="507.10" width="12.67" height="12.60" fill="#ede3d6"/>
<rect x="118.41" y="507.10" width="12.67" height="12.60" fill="#ebebeb"/>
<rect x="131.08" y="507.10" width="12.67" height="12.60" fill="#ede3da"/>
<rect x="161.67" y="507.10" width="12.67" height="12.60" fill="#ece3da"/>
<rect x="187.01" y="507.10" width="12.67" height="12.60" fill="#ede2d3"/>
<rect x="273.40" y="507.10" width="12.67" height="12.60" fill="#ede3d8"/>
<rect x="286.07" y="507.10" width="12.67" height="12.60" fill="#ebebeb"/>
<rect x="80.40" y="519.70" width="12.67" height="12.60" fill="#ececec"/>
<rect x="105.74" y="519.70" width="12.67" height="12.60" fill="#c0914a"/>
<rect x="93.07" y="532.30" width="12.67" height="12.60" fill="#ececec"/>
<rect x="118.41" y="532.30" width="12.67" height="12.60" fill="#c0914a"/>
<rect x="80.40" y="544.90" width="12.67" height="12.60" fill="#ede7e0"/>
<rect x="174.34" y="544.90" width="12.67" height="12.60" fill="#ede6e0"/>
<rect x="187.01" y="544.90" width="12.67" height="12.60" fill="#ede2d3"/>
<rect x="199.68" y="544.90" width="12.67" height="12.60" fill="#ececec"/>
<rect x="237.69" y="544.90" width="12.67" height="12.60" fill="#e4d2b8"/>
<rect x="255.20" y="544.90" width="12.67" height="12.60" fill="#c0914a"/>
<rect x="80.40" y="557.50" width="12.67" height="12.60" fill="#eaeaea"/>
<rect x="212.35" y="557.50" width="12.67" height="12.60" fill="#ececec"/>
<rect x="286.07" y="557.50" width="12.67" height="12.60" fill="#c0914a"/>
<rect x="336.75" y="557.50" width="12.67" height="12.60" fill="#d1aa76"/>
<rect x="349.42" y="557.50" width="12.67" height="12.60" fill="#e3cba8"/>
<rect x="298.74" y="570.10" width="12.67" height="12.60" fill="#ececec"/>
<rect x="311.41" y="570.10" width="12.67" height="12.60" fill="#c0914a"/>
<rect x="80.40" y="582.70" width="12.67" height="12.60" fill="#ececec"/>
<rect x="199.68" y="582.70" width="12.67" height="12.60" fill="#dfc69d"/>
<rect x="298.74" y="582.70" width="12.67" height="12.60" fill="#ede3da"/>
<rect x="336.75" y="582.70" width="12.67" height="12.60" fill="#c0914a"/>
<line x1="80.40" y1="507.1" x2="80.40" y2="595.30" stroke="#9a9a9a" stroke-width="1.1"/>
<line x1="93.07" y1="507.1" x2="93.07" y2="595.30" stroke="#9a9a9a" stroke-width="1.1"/>
<line x1="105.74" y1="507.1" x2="105.74" y2="595.30" stroke="#9a9a9a" stroke-width="1.1"/>
<line x1="118.41" y1="507.1" x2="118.41" y2="595.30" stroke="#9a9a9a" stroke-width="1.1"/>
<line x1="131.08" y1="507.1" x2="131.08" y2="595.30" stroke="#9a9a9a" stroke-width="1.1"/>
<line x1="143.75" y1="507.1" x2="143.75" y2="595.30" stroke="#9a9a9a" stroke-width="1.1"/>
<line x1="79.85" y1="507.10" x2="144.30" y2="507.10" stroke="#9a9a9a" stroke-width="1.1"/>
<line x1="79.85" y1="519.70" x2="144.30" y2="519.70" stroke="#9a9a9a" stroke-width="1.1"/>
<line x1="79.85" y1="532.30" x2="144.30" y2="532.30" stroke="#9a9a9a" stroke-width="1.1"/>
<line x1="79.85" y1="544.90" x2="144.30" y2="544.90" stroke="#9a9a9a" stroke-width="1.1"/>
<line x1="79.85" y1="557.50" x2="144.30" y2="557.50" stroke="#9a9a9a" stroke-width="1.1"/>
<line x1="79.85" y1="570.10" x2="144.30" y2="570.10" stroke="#9a9a9a" stroke-width="1.1"/>
<line x1="79.85" y1="582.70" x2="144.30" y2="582.70" stroke="#9a9a9a" stroke-width="1.1"/>
<line x1="79.85" y1="595.30" x2="144.30" y2="595.30" stroke="#9a9a9a" stroke-width="1.1"/>
<line x1="149.00" y1="507.1" x2="149.00" y2="595.30" stroke="#9a9a9a" stroke-width="1.1"/>
<line x1="161.67" y1="507.1" x2="161.67" y2="595.30" stroke="#9a9a9a" stroke-width="1.1"/>
<line x1="174.34" y1="507.1" x2="174.34" y2="595.30" stroke="#9a9a9a" stroke-width="1.1"/>
<line x1="187.01" y1="507.1" x2="187.01" y2="595.30" stroke="#9a9a9a" stroke-width="1.1"/>
<line x1="199.68" y1="507.1" x2="199.68" y2="595.30" stroke="#9a9a9a" stroke-width="1.1"/>
<line x1="212.35" y1="507.1" x2="212.35" y2="595.30" stroke="#9a9a9a" stroke-width="1.1"/>
<line x1="225.02" y1="507.1" x2="225.02" y2="595.30" stroke="#9a9a9a" stroke-width="1.1"/>
<line x1="237.69" y1="507.1" x2="237.69" y2="595.30" stroke="#9a9a9a" stroke-width="1.1"/>
<line x1="250.36" y1="507.1" x2="250.36" y2="595.30" stroke="#9a9a9a" stroke-width="1.1"/>
<line x1="148.45" y1="507.10" x2="250.91" y2="507.10" stroke="#9a9a9a" stroke-width="1.1"/>
<line x1="148.45" y1="519.70" x2="250.91" y2="519.70" stroke="#9a9a9a" stroke-width="1.1"/>
<line x1="148.45" y1="532.30" x2="250.91" y2="532.30" stroke="#9a9a9a" stroke-width="1.1"/>
<line x1="148.45" y1="544.90" x2="250.91" y2="544.90" stroke="#9a9a9a" stroke-width="1.1"/>
<line x1="148.45" y1="557.50" x2="250.91" y2="557.50" stroke="#9a9a9a" stroke-width="1.1"/>
<line x1="148.45" y1="570.10" x2="250.91" y2="570.10" stroke="#9a9a9a" stroke-width="1.1"/>
<line x1="148.45" y1="582.70" x2="250.91" y2="582.70" stroke="#9a9a9a" stroke-width="1.1"/>
<line x1="148.45" y1="595.30" x2="250.91" y2="595.30" stroke="#9a9a9a" stroke-width="1.1"/>
<line x1="255.20" y1="507.1" x2="255.20" y2="595.30" stroke="#9a9a9a" stroke-width="1.1"/>
<line x1="267.87" y1="507.1" x2="267.87" y2="595.30" stroke="#9a9a9a" stroke-width="1.1"/>
<line x1="254.65" y1="507.10" x2="268.42" y2="507.10" stroke="#9a9a9a" stroke-width="1.1"/>
<line x1="254.65" y1="519.70" x2="268.42" y2="519.70" stroke="#9a9a9a" stroke-width="1.1"/>
<line x1="254.65" y1="532.30" x2="268.42" y2="532.30" stroke="#9a9a9a" stroke-width="1.1"/>
<line x1="254.65" y1="544.90" x2="268.42" y2="544.90" stroke="#9a9a9a" stroke-width="1.1"/>
<line x1="254.65" y1="557.50" x2="268.42" y2="557.50" stroke="#9a9a9a" stroke-width="1.1"/>
<line x1="254.65" y1="570.10" x2="268.42" y2="570.10" stroke="#9a9a9a" stroke-width="1.1"/>
<line x1="254.65" y1="582.70" x2="268.42" y2="582.70" stroke="#9a9a9a" stroke-width="1.1"/>
<line x1="254.65" y1="595.30" x2="268.42" y2="595.30" stroke="#9a9a9a" stroke-width="1.1"/>
<line x1="273.40" y1="507.1" x2="273.40" y2="595.30" stroke="#9a9a9a" stroke-width="1.1"/>
<line x1="286.07" y1="507.1" x2="286.07" y2="595.30" stroke="#9a9a9a" stroke-width="1.1"/>
<line x1="298.74" y1="507.1" x2="298.74" y2="595.30" stroke="#9a9a9a" stroke-width="1.1"/>
<line x1="311.41" y1="507.1" x2="311.41" y2="595.30" stroke="#9a9a9a" stroke-width="1.1"/>
<line x1="324.08" y1="507.1" x2="324.08" y2="595.30" stroke="#9a9a9a" stroke-width="1.1"/>
<line x1="336.75" y1="507.1" x2="336.75" y2="595.30" stroke="#9a9a9a" stroke-width="1.1"/>
<line x1="349.42" y1="507.1" x2="349.42" y2="595.30" stroke="#9a9a9a" stroke-width="1.1"/>
<line x1="362.09" y1="507.1" x2="362.09" y2="595.30" stroke="#9a9a9a" stroke-width="1.1"/>
<line x1="272.85" y1="507.10" x2="362.64" y2="507.10" stroke="#9a9a9a" stroke-width="1.1"/>
<line x1="272.85" y1="519.70" x2="362.64" y2="519.70" stroke="#9a9a9a" stroke-width="1.1"/>
<line x1="272.85" y1="532.30" x2="362.64" y2="532.30" stroke="#9a9a9a" stroke-width="1.1"/>
<line x1="272.85" y1="544.90" x2="362.64" y2="544.90" stroke="#9a9a9a" stroke-width="1.1"/>
<line x1="272.85" y1="557.50" x2="362.64" y2="557.50" stroke="#9a9a9a" stroke-width="1.1"/>
<line x1="272.85" y1="570.10" x2="362.64" y2="570.10" stroke="#9a9a9a" stroke-width="1.1"/>
<line x1="272.85" y1="582.70" x2="362.64" y2="582.70" stroke="#9a9a9a" stroke-width="1.1"/>
<line x1="272.85" y1="595.30" x2="362.64" y2="595.30" stroke="#9a9a9a" stroke-width="1.1"/>
<rect x="80.40" y="310.7" width="12.67" height="9.9" fill="#e15a5f"/>
<rect x="93.07" y="310.7" width="12.67" height="9.9" fill="#cc3a3e"/>
<rect x="105.74" y="310.7" width="12.67" height="9.9" fill="#9a0a0e"/>
<rect x="118.41" y="310.7" width="12.67" height="9.9" fill="#f87f70"/>
<rect x="131.08" y="310.7" width="12.67" height="9.9" fill="#fca8b5"/>
<line x1="80.40" y1="310.7" x2="80.40" y2="320.59999999999997" stroke="#9a9a9a" stroke-width="1.1"/>
<line x1="93.07" y1="310.7" x2="93.07" y2="320.59999999999997" stroke="#9a9a9a" stroke-width="1.1"/>
<line x1="105.74" y1="310.7" x2="105.74" y2="320.59999999999997" stroke="#9a9a9a" stroke-width="1.1"/>
<line x1="118.41" y1="310.7" x2="118.41" y2="320.59999999999997" stroke="#9a9a9a" stroke-width="1.1"/>
<line x1="131.08" y1="310.7" x2="131.08" y2="320.59999999999997" stroke="#9a9a9a" stroke-width="1.1"/>
<line x1="143.75" y1="310.7" x2="143.75" y2="320.59999999999997" stroke="#9a9a9a" stroke-width="1.1"/>
<line x1="79.85" y1="310.7" x2="144.30" y2="310.7" stroke="#9a9a9a" stroke-width="1.1"/>
<line x1="79.85" y1="320.59999999999997" x2="144.30" y2="320.59999999999997" stroke="#9a9a9a" stroke-width="1.1"/>
<text x="0" y="0" font-size="9.2" fill="#222" transform="translate(86.70 307.6) rotate(-55)">fKC</text>
<text x="0" y="0" font-size="9.2" fill="#222" transform="translate(99.37 307.6) rotate(-55)">mKC</text>
<text x="0" y="0" font-size="9.2" fill="#222" transform="translate(112.04 307.6) rotate(-55)">sKC</text>
<text x="0" y="0" font-size="9.2" fill="#222" transform="translate(124.71 307.6) rotate(-55)">Il-KC1</text>
<text x="0" y="0" font-size="9.2" fill="#222" transform="translate(137.38 307.6) rotate(-55)">Il-KC2</text>
<text x="86.73" y="606.6" font-size="8.6" text-anchor="middle" font-weight="normal" font-style="normal" fill="#333" >1</text>
<text x="99.41" y="606.6" font-size="8.6" text-anchor="middle" font-weight="normal" font-style="normal" fill="#333" >6</text>
<text x="112.08" y="606.6" font-size="8.6" text-anchor="middle" font-weight="normal" font-style="normal" fill="#333" >3</text>
<text x="124.74" y="606.6" font-size="8.6" text-anchor="middle" font-weight="normal" font-style="normal" fill="#333" >5</text>
<text x="137.42" y="606.6" font-size="8.6" text-anchor="middle" font-weight="normal" font-style="normal" fill="#333" >12</text>
<rect x="149.00" y="310.7" width="12.67" height="9.9" fill="#4b7a24"/>
<rect x="161.67" y="310.7" width="12.67" height="9.9" fill="#a3d97c"/>
<rect x="174.34" y="310.7" width="12.67" height="9.9" fill="#42a319"/>
<rect x="187.01" y="310.7" width="12.67" height="9.9" fill="#82e6a3"/>
<rect x="199.68" y="310.7" width="12.67" height="9.9" fill="#1f8f6b"/>
<rect x="212.35" y="310.7" width="12.67" height="9.9" fill="#c8ea8d"/>
<rect x="225.02" y="310.7" width="12.67" height="9.9" fill="#4cc47a"/>
<rect x="237.69" y="310.7" width="12.67" height="9.9" fill="#a7b85a"/>
<line x1="149.00" y1="310.7" x2="149.00" y2="320.59999999999997" stroke="#9a9a9a" stroke-width="1.1"/>
<line x1="161.67" y1="310.7" x2="161.67" y2="320.59999999999997" stroke="#9a9a9a" stroke-width="1.1"/>
<line x1="174.34" y1="310.7" x2="174.34" y2="320.59999999999997" stroke="#9a9a9a" stroke-width="1.1"/>
<line x1="187.01" y1="310.7" x2="187.01" y2="320.59999999999997" stroke="#9a9a9a" stroke-width="1.1"/>
<line x1="199.68" y1="310.7" x2="199.68" y2="320.59999999999997" stroke="#9a9a9a" stroke-width="1.1"/>
<line x1="212.35" y1="310.7" x2="212.35" y2="320.59999999999997" stroke="#9a9a9a" stroke-width="1.1"/>
<line x1="225.02" y1="310.7" x2="225.02" y2="320.59999999999997" stroke="#9a9a9a" stroke-width="1.1"/>
<line x1="237.69" y1="310.7" x2="237.69" y2="320.59999999999997" stroke="#9a9a9a" stroke-width="1.1"/>
<line x1="250.36" y1="310.7" x2="250.36" y2="320.59999999999997" stroke="#9a9a9a" stroke-width="1.1"/>
<line x1="148.45" y1="310.7" x2="250.91" y2="310.7" stroke="#9a9a9a" stroke-width="1.1"/>
<line x1="148.45" y1="320.59999999999997" x2="250.91" y2="320.59999999999997" stroke="#9a9a9a" stroke-width="1.1"/>
<text x="0" y="0" font-size="9.2" fill="#222" transform="translate(152.90 307.6) rotate(-55)">OLC1</text>
<text x="0" y="0" font-size="9.2" fill="#222" transform="translate(165.94 307.6) rotate(-55)">OLC2</text>
<text x="0" y="0" font-size="9.2" fill="#222" transform="translate(178.98 307.6) rotate(-55)">OLC3</text>
<text x="0" y="0" font-size="9.2" fill="#222" transform="translate(192.02 307.6) rotate(-55)">OLC4</text>
<text x="0" y="0" font-size="9.2" fill="#222" transform="translate(205.06 307.6) rotate(-55)">OLC5</text>
<text x="0" y="0" font-size="9.2" fill="#222" transform="translate(218.10 307.6) rotate(-55)">OLC6</text>
<text x="0" y="0" font-size="9.2" fill="#222" transform="translate(231.14 307.6) rotate(-55)">OLC7</text>
<text x="0" y="0" font-size="9.2" fill="#222" transform="translate(244.18 307.6) rotate(-55)">OLC8</text>
<text x="155.34" y="606.6" font-size="8.6" text-anchor="middle" font-weight="normal" font-style="normal" fill="#333" >16</text>
<text x="168.0" y="606.6" font-size="8.6" text-anchor="middle" font-weight="normal" font-style="normal" fill="#333" >21</text>
<text x="180.68" y="606.6" font-size="8.6" text-anchor="middle" font-weight="normal" font-style="normal" fill="#333" >13</text>
<text x="193.34" y="606.6" font-size="8.6" text-anchor="middle" font-weight="normal" font-style="normal" fill="#333" >15</text>
<text x="206.02" y="606.6" font-size="8.6" text-anchor="middle" font-weight="normal" font-style="normal" fill="#333" >20</text>
<text x="218.69" y="606.6" font-size="8.6" text-anchor="middle" font-weight="normal" font-style="normal" fill="#333" >14</text>
<text x="231.35" y="606.6" font-size="8.6" text-anchor="middle" font-weight="normal" font-style="normal" fill="#333" >18</text>
<text x="244.03" y="606.6" font-size="8.6" text-anchor="middle" font-weight="normal" font-style="normal" fill="#333" >19</text>
<rect x="255.20" y="310.7" width="12.67" height="9.9" fill="#f5b83d"/>
<line x1="255.20" y1="310.7" x2="255.20" y2="320.59999999999997" stroke="#9a9a9a" stroke-width="1.1"/>
<line x1="267.87" y1="310.7" x2="267.87" y2="320.59999999999997" stroke="#9a9a9a" stroke-width="1.1"/>
<line x1="254.65" y1="310.7" x2="268.42" y2="310.7" stroke="#9a9a9a" stroke-width="1.1"/>
<line x1="254.65" y1="320.59999999999997" x2="268.42" y2="320.59999999999997" stroke="#9a9a9a" stroke-width="1.1"/>
<text x="0" y="0" font-size="9.2" fill="#222" transform="translate(261.90 307.6) rotate(-55)">OPN</text>
<text x="261.53" y="606.6" font-size="8.6" text-anchor="middle" font-weight="normal" font-style="normal" fill="#333" >8</text>
<rect x="273.40" y="310.7" width="12.67" height="9.9" fill="#35a7c6"/>
<rect x="286.07" y="310.7" width="12.67" height="9.9" fill="#a8d8e8"/>
<rect x="298.74" y="310.7" width="12.67" height="9.9" fill="#0a87a5"/>
<rect x="311.41" y="310.7" width="12.67" height="9.9" fill="#a8ecf8"/>
<rect x="324.08" y="310.7" width="12.67" height="9.9" fill="#7eb4fa"/>
<rect x="336.75" y="310.7" width="12.67" height="9.9" fill="#2b7fff"/>
<rect x="349.42" y="310.7" width="12.67" height="9.9" fill="#0b3fa6"/>
<line x1="273.40" y1="310.7" x2="273.40" y2="320.59999999999997" stroke="#9a9a9a" stroke-width="1.1"/>
<line x1="286.07" y1="310.7" x2="286.07" y2="320.59999999999997" stroke="#9a9a9a" stroke-width="1.1"/>
<line x1="298.74" y1="310.7" x2="298.74" y2="320.59999999999997" stroke="#9a9a9a" stroke-width="1.1"/>
<line x1="311.41" y1="310.7" x2="311.41" y2="320.59999999999997" stroke="#9a9a9a" stroke-width="1.1"/>
<line x1="324.08" y1="310.7" x2="324.08" y2="320.59999999999997" stroke="#9a9a9a" stroke-width="1.1"/>
<line x1="336.75" y1="310.7" x2="336.75" y2="320.59999999999997" stroke="#9a9a9a" stroke-width="1.1"/>
<line x1="349.42" y1="310.7" x2="349.42" y2="320.59999999999997" stroke="#9a9a9a" stroke-width="1.1"/>
<line x1="362.09" y1="310.7" x2="362.09" y2="320.59999999999997" stroke="#9a9a9a" stroke-width="1.1"/>
<line x1="272.85" y1="310.7" x2="362.64" y2="310.7" stroke="#9a9a9a" stroke-width="1.1"/>
<line x1="272.85" y1="320.59999999999997" x2="362.64" y2="320.59999999999997" stroke="#9a9a9a" stroke-width="1.1"/>
<text x="0" y="0" font-size="9.2" fill="#222" transform="translate(277.30 307.6) rotate(-55)">AST1</text>
<text x="0" y="0" font-size="9.2" fill="#222" transform="translate(289.97 307.6) rotate(-55)">Glia1</text>
<text x="0" y="0" font-size="9.2" fill="#222" transform="translate(302.64 307.6) rotate(-55)">AST2</text>
<text x="0" y="0" font-size="9.2" fill="#222" transform="translate(315.31 307.6) rotate(-55)">AST3</text>
<text x="0" y="0" font-size="9.2" fill="#222" transform="translate(327.98 307.6) rotate(-55)">ENS</text>
<text x="0" y="0" font-size="9.2" fill="#222" transform="translate(340.65 307.6) rotate(-55)">COR</text>
<text x="0" y="0" font-size="9.2" fill="#222" transform="translate(353.32 307.6) rotate(-55)">SUR</text>
<text x="279.73" y="606.6" font-size="8.6" text-anchor="middle" font-weight="normal" font-style="normal" fill="#333" >7</text>
<text x="292.4" y="606.6" font-size="8.6" text-anchor="middle" font-weight="normal" font-style="normal" fill="#333" >9</text>
<text x="305.07" y="606.6" font-size="8.6" text-anchor="middle" font-weight="normal" font-style="normal" fill="#333" >11</text>
<text x="317.74" y="606.6" font-size="8.6" text-anchor="middle" font-weight="normal" font-style="normal" fill="#333" >26</text>
<text x="330.41" y="606.6" font-size="8.6" text-anchor="middle" font-weight="normal" font-style="normal" fill="#333" >23</text>
<text x="343.08" y="606.6" font-size="8.6" text-anchor="middle" font-weight="normal" font-style="normal" fill="#333" >25</text>
<text x="355.75" y="606.6" font-size="8.6" text-anchor="middle" font-weight="normal" font-style="normal" fill="#333" >22</text>
<text x="228.2" y="618.6" font-size="9" text-anchor="middle" font-weight="normal" font-style="normal" fill="#333" >Cluster</text>
<text x="396.5" y="319.2" font-size="9.65" text-anchor="middle" font-weight="bold" font-style="normal" fill="#111" >Gene</text>
<text x="459.2" y="319.2" font-size="9.7" text-anchor="middle" font-weight="bold" font-style="normal" fill="#111" >Description</text>
<text x="372.0" y="336.6" font-size="8.85" text-anchor="start" font-weight="normal" font-style="italic" fill="#111" >LOC408817</text>
<text x="430.1" y="336.6" font-size="8.93" text-anchor="start" font-weight="normal" font-style="normal" fill="#111" >alanine−glyoxylate aminotransferase 2−like</text>
<text x="372.0" y="349.06" font-size="8.85" text-anchor="start" font-weight="normal" font-style="italic" fill="#111" >LOC408310</text>
<text x="430.1" y="349.06" font-size="8.93" text-anchor="start" font-weight="normal" font-style="normal" fill="#111" >caveolin−3</text>
<text x="372.0" y="361.52" font-size="8.85" text-anchor="start" font-weight="normal" font-style="italic" fill="#111" >Pban</text>
<text x="430.1" y="361.52" font-size="8.93" text-anchor="start" font-weight="normal" font-style="normal" fill="#111" >pheromone biosynthesis−activating neuropeptide</text>
<text x="372.0" y="373.98" font-size="8.85" text-anchor="start" font-weight="normal" font-style="italic" fill="#111" >LOC408369</text>
<text x="430.1" y="373.98" font-size="8.93" text-anchor="start" font-weight="normal" font-style="normal" fill="#111" >putative glutathione−specific gamma−glutamylcyclotransferase 2</text>
<text x="372.0" y="386.44" font-size="8.85" text-anchor="start" font-weight="normal" font-style="italic" fill="#111" >LOC724118</text>
<text x="430.1" y="386.44" font-size="8.93" text-anchor="start" font-weight="normal" font-style="normal" fill="#111" >mitochondrial fission regulator 2</text>
<text x="372.0" y="398.9" font-size="8.85" text-anchor="start" font-weight="normal" font-style="italic" fill="#111" >LOC724541</text>
<text x="430.1" y="398.9" font-size="8.93" text-anchor="start" font-weight="normal" font-style="normal" fill="#111" >peroxidase</text>
<text x="372.0" y="411.36" font-size="8.85" text-anchor="start" font-weight="normal" font-style="italic" fill="#111" >LOC410055</text>
<text x="430.1" y="411.36" font-size="8.93" text-anchor="start" font-weight="normal" font-style="normal" fill="#111" >probable tRNA(His) guanylyltransferase</text>
<text x="372.0" y="423.82" font-size="8.85" text-anchor="start" font-weight="normal" font-style="italic" fill="#111" >LOC409512</text>
<text x="430.1" y="423.82" font-size="8.93" text-anchor="start" font-weight="normal" font-style="normal" fill="#111" >neural/ectodermal development factor IMP−L2</text>
<text x="372.0" y="436.28" font-size="8.85" text-anchor="start" font-weight="normal" font-style="italic" fill="#111" >LOC409369</text>
<text x="430.1" y="436.28" font-size="8.93" text-anchor="start" font-weight="normal" font-style="normal" fill="#111" >brain protein I3</text>
<text x="372.0" y="448.74" font-size="8.85" text-anchor="start" font-weight="normal" font-style="italic" fill="#111" >LOC408573</text>
<text x="430.1" y="448.74" font-size="8.93" text-anchor="start" font-weight="normal" font-style="normal" fill="#111" >eukaryotic translation initiation factor 6</text>
<text x="372.0" y="461.2" font-size="8.85" text-anchor="start" font-weight="normal" font-style="italic" fill="#111" >LOC412996</text>
<text x="430.1" y="461.2" font-size="8.93" text-anchor="start" font-weight="normal" font-style="normal" fill="#111" >estrogen sulfotransferase</text>
<text x="372.0" y="473.66" font-size="8.85" text-anchor="start" font-weight="normal" font-style="italic" fill="#111" >LOC412150</text>
<text x="430.1" y="473.66" font-size="8.93" text-anchor="start" font-weight="normal" font-style="normal" fill="#111" >endoplasmin</text>
<text x="372.0" y="486.12" font-size="8.85" text-anchor="start" font-weight="normal" font-style="italic" fill="#111" >LOC412067</text>
<text x="430.1" y="486.12" font-size="8.93" text-anchor="start" font-weight="normal" font-style="normal" fill="#111" >cysteine and histidine−rich domain−containing protein</text>
<text x="372.0" y="498.58" font-size="8.85" text-anchor="start" font-weight="normal" font-style="italic" fill="#111" >LOC410368</text>
<text x="430.1" y="498.58" font-size="8.93" text-anchor="start" font-weight="normal" font-style="normal" fill="#111" >cadherin−23</text>
<text x="372.0" y="516.9" font-size="8.85" text-anchor="start" font-weight="normal" font-style="italic" fill="#111" >LOC409192</text>
<text x="430.1" y="516.9" font-size="8.93" text-anchor="start" font-weight="normal" font-style="normal" fill="#111" >probable phospholipid−transporting ATPase VD</text>
<text x="372.0" y="529.38" font-size="8.85" text-anchor="start" font-weight="normal" font-style="italic" fill="#111" >LOC409267</text>
<text x="430.1" y="529.38" font-size="8.93" text-anchor="start" font-weight="normal" font-style="normal" fill="#111" >glycogen phosphorylase</text>
<text x="372.0" y="541.86" font-size="8.85" text-anchor="start" font-weight="normal" font-style="italic" fill="#111" >LOC409852</text>
<text x="430.1" y="541.86" font-size="8.93" text-anchor="start" font-weight="normal" font-style="normal" fill="#111" >transcription factor SPT20 homolog</text>
<text x="372.0" y="554.34" font-size="8.85" text-anchor="start" font-weight="normal" font-style="italic" fill="#111" >LOC411186</text>
<text x="430.1" y="554.34" font-size="8.93" text-anchor="start" font-weight="normal" font-style="normal" fill="#111" >synaptic vesicle glycoprotein 2C</text>
<text x="372.0" y="566.82" font-size="8.85" text-anchor="start" font-weight="normal" font-style="italic" fill="#111" >LOC411282</text>
<text x="430.1" y="566.82" font-size="8.93" text-anchor="start" font-weight="normal" font-style="normal" fill="#111" >basic−leucine zipper transcription factor A</text>
<text x="372.0" y="579.3" font-size="8.85" text-anchor="start" font-weight="normal" font-style="italic" fill="#111" >Apd−2</text>
<text x="430.1" y="579.3" font-size="8.93" text-anchor="start" font-weight="normal" font-style="normal" fill="#111" >apidermin 2</text>
<text x="372.0" y="591.78" font-size="8.85" text-anchor="start" font-weight="normal" font-style="italic" fill="#111" >LOC408596</text>
<text x="430.1" y="591.78" font-size="8.93" text-anchor="start" font-weight="normal" font-style="normal" fill="#111" >clavesin−2</text>
<defs><linearGradient id="gl" x1="0" y1="0" x2="1" y2="0"><stop offset="0" stop-color="#c0914a"/><stop offset="0.25" stop-color="#e2cdb2"/><stop offset="0.5" stop-color="#eeeeee"/><stop offset="0.72" stop-color="#d3e5e3"/><stop offset="0.87" stop-color="#86bdb9"/><stop offset="1" stop-color="#2e8b87"/></linearGradient></defs>
<text x="524.3" y="594.7" font-size="9.6" fill="#111">Scaled log<tspan font-size="6.5" dy="2">2</tspan><tspan dy="-2">FC</tspan></text>
<rect x="526" y="599.1" width="57.8" height="9.9" fill="url(#gl)"/>
<line x1="526" y1="609.4" x2="583.8" y2="609.4" stroke="#111" stroke-width="0.9"/>
<line x1="526.5" y1="609" x2="526.5" y2="612.4" stroke="#111" stroke-width="1.1"/>
<line x1="555.0" y1="609" x2="555.0" y2="612.4" stroke="#111" stroke-width="1.1"/>
<line x1="583.4" y1="609" x2="583.4" y2="612.4" stroke="#111" stroke-width="1.1"/>
<text x="525.9" y="623.9" font-size="9.6" text-anchor="middle" font-weight="normal" font-style="normal" fill="#111" >−1</text>
<text x="555.3" y="623.9" font-size="9.6" text-anchor="middle" font-weight="normal" font-style="normal" fill="#111" >0</text>
<text x="583.6" y="623.9" font-size="9.6" text-anchor="middle" font-weight="normal" font-style="normal" fill="#111" >1</text>
<g transform="translate(0 380) scale(0.08013)" fill="#2e8b87"><path d="M 238 248 C 185 200, 110 152, 58 148 C 34 147, 26 165, 28 188 C 30 208, 42 219, 62 221 C 120 228, 190 238, 238 248 Z"/><path d="M 250 280 C 200 258, 100 240, 30 236 C 10 236, 2 252, 5 272 C 9 300, 28 322, 65 328 C 130 334, 210 308, 250 280 Z"/><ellipse cx="355" cy="232" rx="57" ry="42" transform="rotate(8 355 232)"/><ellipse cx="350" cy="215" rx="13" ry="8" fill="#fff"/><path d="M 343 192 C 350 165, 365 150, 385 140 M 355 190 C 375 176, 398 172, 420 178" fill="none" stroke="#2e8b87" stroke-width="9"/><ellipse cx="293" cy="318" rx="46" ry="40"/><path d="M 235 352 C 290 352, 325 400, 325 450 C 325 510, 280 570, 215 600 C 185 570, 160 520, 160 460 C 160 400, 190 355, 235 352 Z"/><path d="M 160 392 Q 235 438, 332 436 M 155 486 Q 225 528, 322 526" fill="none" stroke="#fff" stroke-width="11"/></g>
<g fill="#2e8b87"><ellipse cx="36.70" cy="415.80" rx="2.85" ry="3.8" transform="rotate(0 36.70 415.80)"/><ellipse cx="40.79" cy="418.77" rx="2.85" ry="3.8" transform="rotate(72 40.79 418.77)"/><ellipse cx="39.23" cy="423.58" rx="2.85" ry="3.8" transform="rotate(144 39.23 423.58)"/><ellipse cx="34.17" cy="423.58" rx="2.85" ry="3.8" transform="rotate(216 34.17 423.58)"/><ellipse cx="32.61" cy="418.77" rx="2.85" ry="3.8" transform="rotate(288 32.61 418.77)"/><circle cx="36.7" cy="420.1" r="2.8"/></g>
<circle cx="36.7" cy="420.1" r="1.25" fill="#fff"/>
<g transform="translate(0 521.8) scale(0.08013)" fill="#c0914a"><path d="M 238 248 C 185 200, 110 152, 58 148 C 34 147, 26 165, 28 188 C 30 208, 42 219, 62 221 C 120 228, 190 238, 238 248 Z"/><path d="M 250 280 C 200 258, 100 240, 30 236 C 10 236, 2 252, 5 272 C 9 300, 28 322, 65 328 C 130 334, 210 308, 250 280 Z"/><ellipse cx="355" cy="232" rx="57" ry="42" transform="rotate(8 355 232)"/><ellipse cx="350" cy="215" rx="13" ry="8" fill="#fff"/><path d="M 343 192 C 350 165, 365 150, 385 140 M 355 190 C 375 176, 398 172, 420 178" fill="none" stroke="#c0914a" stroke-width="9"/><ellipse cx="293" cy="318" rx="46" ry="40"/><path d="M 235 352 C 290 352, 325 400, 325 450 C 325 510, 280 570, 215 600 C 185 570, 160 520, 160 460 C 160 400, 190 355, 235 352 Z"/><path d="M 160 392 Q 235 438, 332 436 M 155 486 Q 225 528, 322 526" fill="none" stroke="#fff" stroke-width="11"/></g>
<polygon points="37.00,552.90 44.27,557.10 44.27,565.50 37.00,569.70 29.73,565.50 29.73,557.10" fill="#fff" stroke="#c0914a" stroke-width="1.9"/>
<circle cx="37.0" cy="561.3" r="5.6" fill="#fff" stroke="#d3b387" stroke-width="0.7"/>
<line x1="39.50" y1="561.30" x2="42.40" y2="561.30" stroke="#e0c8a4" stroke-width="0.5"/>
<line x1="39.17" y1="562.55" x2="41.68" y2="564.00" stroke="#e0c8a4" stroke-width="0.5"/>
<line x1="38.25" y1="563.47" x2="39.70" y2="565.98" stroke="#e0c8a4" stroke-width="0.5"/>
<line x1="37.00" y1="563.80" x2="37.00" y2="566.70" stroke="#e0c8a4" stroke-width="0.5"/>
<line x1="35.75" y1="563.47" x2="34.30" y2="565.98" stroke="#e0c8a4" stroke-width="0.5"/>
<line x1="34.83" y1="562.55" x2="32.32" y2="564.00" stroke="#e0c8a4" stroke-width="0.5"/>
<line x1="34.50" y1="561.30" x2="31.60" y2="561.30" stroke="#e0c8a4" stroke-width="0.5"/>
<line x1="34.83" y1="560.05" x2="32.32" y2="558.60" stroke="#e0c8a4" stroke-width="0.5"/>
<line x1="35.75" y1="559.13" x2="34.30" y2="556.62" stroke="#e0c8a4" stroke-width="0.5"/>
<line x1="37.00" y1="558.80" x2="37.00" y2="555.90" stroke="#e0c8a4" stroke-width="0.5"/>
<line x1="38.25" y1="559.13" x2="39.70" y2="556.62" stroke="#e0c8a4" stroke-width="0.5"/>
<line x1="39.17" y1="560.05" x2="41.68" y2="558.60" stroke="#e0c8a4" stroke-width="0.5"/>
<path d="M 35.4 559.6999999999999 C 36.4 558.9, 37.6 560.0999999999999, 38.9 563.1999999999999 C 36.6 562.0999999999999, 35.2 560.9, 35.4 559.6999999999999 Z" fill="#c0914a"/>
<defs><linearGradient id="tt" x1="0" y1="0" x2="1" y2="0"><stop offset="0" stop-color="#84bdb9"/><stop offset="1" stop-color="#84bdb9" stop-opacity="0"/></linearGradient><linearGradient id="tb" x1="0" y1="0" x2="1" y2="0"><stop offset="0" stop-color="#d3b58c"/><stop offset="1" stop-color="#d3b58c" stop-opacity="0"/></linearGradient></defs>
<polygon points="49.6,409.1 71.5,322 73,322 73,496 71.5,496" fill="url(#tt)"/>
<polygon points="50,550.9 71.5,508.6 73,508.6 73,593.2 71.5,593.2" fill="url(#tb)"/>
</svg>
</body></html>
